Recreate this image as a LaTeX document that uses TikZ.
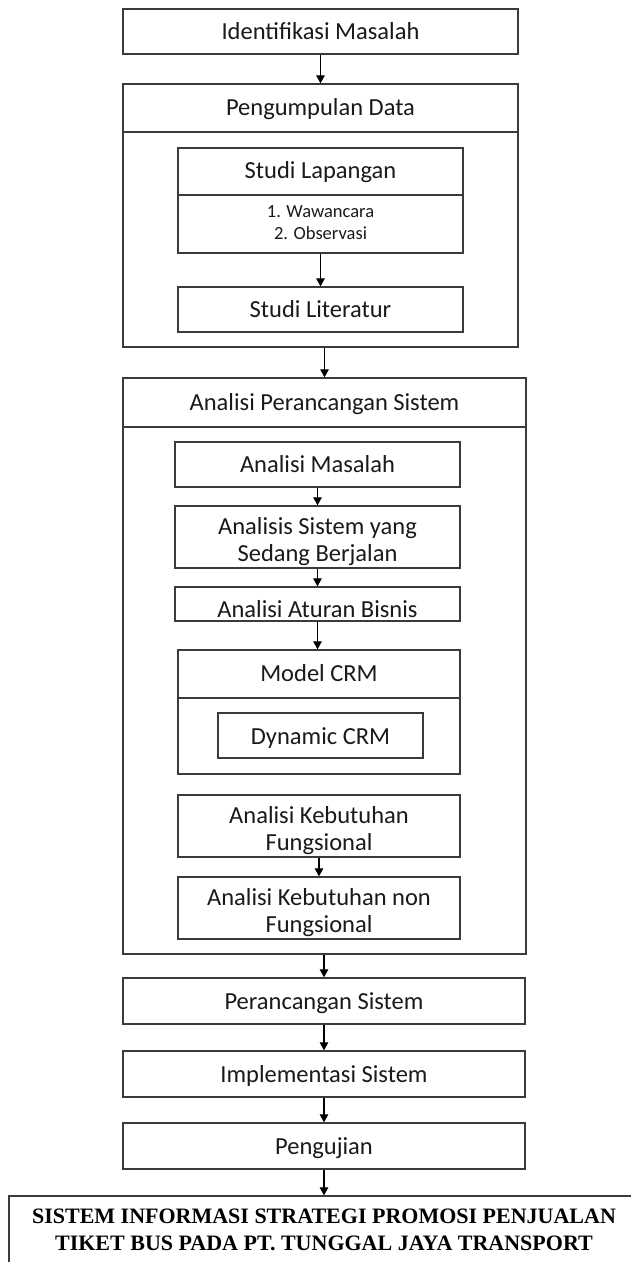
\documentclass[tikz,border=0pt]{standalone}
\usepackage{fontspec}
\setmainfont{Carlito}
\newfontfamily\titlefont{Liberation Serif}
\usetikzlibrary{arrows.meta,calc}
\definecolor{linec}{HTML}{3A3A3A}
\definecolor{txtc}{HTML}{1A1A1A}
\newcommand\lbl[2]{\raisebox{#2}[\height][\depth]{\begin{tabular}{@{}c@{}}#1\end{tabular}}}
\begin{document}
\begin{tikzpicture}[x=1pt,y=-1pt,
  bx/.style={draw=linec, line width=1.3pt, inner sep=0pt, text=txtc, font=\fontsize{24.5}{27}\selectfont},
  sz/.style 2 args={minimum width=#1pt, minimum height=#2pt},
  arr/.style={-{Triangle[length=8pt,width=8.5pt]}, line width=1.1pt, draw=black}]
\useasboundingbox (0,0) rectangle (631,1262);
\fill[white] (0,0) rectangle (631,1262);

\node[bx,sz={395}{45}] (ident) at (320.5,31.5) {\lbl{Identifikasi Masalah}{-3pt}};
\node[bx,sz={395}{48}] (pdhead) at (320.5,108) {\lbl{Pengumpulan Data}{-2.5pt}};
\node[bx,sz={395}{215}] (pdbody) at (320.5,239.5) {};
\node[bx,sz={285}{47}] (slhead) at (320.5,171.5) {\lbl{Studi Lapangan}{-1.5pt}};
\node[bx,sz={285}{58},font=\fontsize{18.5}{22}\selectfont] (slbody) at (320.5,224) {\lbl{1. Wawancara\\2. Observasi}{0pt}};
\node[bx,sz={285}{45}] (slit) at (320.5,309.5) {\lbl{Studi Literatur}{-2.6pt}};

\node[bx,sz={403}{49}] (apshead) at (324.5,402.5) {\lbl{Analisi Perancangan Sistem}{-2.2pt}};
\node[bx,sz={403}{527}] (apsbody) at (324.5,690.5) {};
\node[bx,sz={285}{45}] (am) at (317.5,464.5) {\lbl{Analisi Masalah}{-2.6pt}};
\node[bx,sz={285}{62}] (asis) at (317.5,537) {\lbl{Analisis Sistem yang\\Sedang Berjalan}{-6pt}};
\node[bx,sz={285}{34}] (aab) at (317.5,604) {\lbl{Analisi Aturan Bisnis}{-8.4pt}};
\node[bx,sz={282}{48}] (crmhead) at (319,674) {\lbl{Model CRM}{-2pt}};
\node[bx,sz={282}{76}] (crmbody) at (319,736) {};
\node[bx,sz={205}{45}] (dyn) at (320.5,735.5) {\lbl{Dynamic CRM}{-3.3pt}};
\node[bx,sz={282}{62}] (akf) at (319,826) {\lbl{Analisi Kebutuhan\\Fungsional}{-6pt}};
\node[bx,sz={282}{62}] (aknf) at (319,908) {\lbl{Analisi Kebutuhan non\\Fungsional}{-6pt}};

\node[bx,sz={402}{46}] (ps) at (324,1001) {\lbl{Perancangan Sistem}{-3pt}};
\node[bx,sz={402}{46}] (impl) at (324,1074) {\lbl{Implementasi Sistem}{-2.8pt}};
\node[bx,sz={402}{46}] (peng) at (324,1146) {\lbl{Pengujian}{-3pt}};
\node[bx,sz={630}{72},text=black,font=\titlefont\bfseries\fontsize{22}{27}\selectfont] (final) at (324,1232)
  {\lbl{SISTEM INFORMASI STRATEGI PROMOSI PENJUALAN\\TIKET BUS PADA PT. TUNGGAL JAYA TRANSPORT}{0.5pt}};

\draw[arr] (ident.south) -- (pdhead.north);
\draw[arr] (slbody.south) -- (slit.north);
\draw[arr] (apshead.north |- pdbody.south) -- (apshead.north);
\draw[arr] (am.south) -- (asis.north);
\draw[arr] (asis.south) -- (aab.north);
\draw[arr] (aab.south) -- (aab.south |- crmhead.north);
\draw[arr] (akf.south) -- (akf.south |- aknf.north);
\draw[arr] (ps.north |- apsbody.south) -- (ps.north);
\draw[arr] (ps.south) -- (impl.north);
\draw[arr] (impl.south) -- (peng.north);
\draw[arr] (peng.south) -- (peng.south |- final.north);
\end{tikzpicture}
\end{document}
